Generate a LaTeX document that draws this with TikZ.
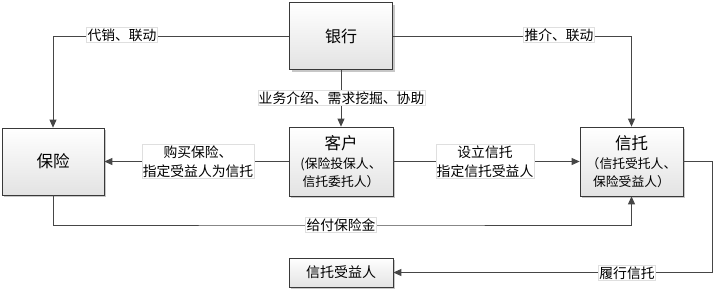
\documentclass[tikz,border=0pt]{standalone}
\usepackage{fontspec}
\newfontfamily\cjk{Noto Sans CJK SC}
\usetikzlibrary{arrows.meta,shadows,positioning}
\tikzset{
  box/.style={draw=gray!45!black, line width=0.7pt, top color=white, bottom color=gray!22,
    drop shadow={shadow xshift=2pt, shadow yshift=-2pt, fill=gray!55, opacity=0.8},
    align=center, font=\cjk, inner sep=0pt},
  lbl/.style={fill=white, draw=gray!25, line width=0.4pt, font=\cjk\fontsize{13.8}{19}\selectfont,
    align=center, inner sep=1pt},
  conn/.style={draw=gray!55!black, line width=0.8pt},
  arr/.style={conn, -{Triangle[length=8pt,width=7pt]}},
}
\begin{document}
\begin{tikzpicture}[x=1pt,y=-1pt]
\useasboundingbox (0,0) rectangle (727,293);
\node[box, minimum width=103pt, minimum height=67pt, font=\cjk\fontsize{16}{20}\selectfont] (bank) at (341,36) {银行};
\node[box, minimum width=102pt, minimum height=67pt, font=\cjk\fontsize{16.5}{20}\selectfont] (ins) at (53,161.5) {保险};
\node[box, minimum width=104pt, minimum height=69pt, font=\cjk\fontsize{12.8}{18}\selectfont] (cust) at (341,161.5)
  {{\fontsize{16.5}{19}\selectfont 客户}\\[1pt](保险投保人、\\信托委托人）};
\node[box, minimum width=103pt, minimum height=69pt, font=\cjk\fontsize{12.8}{18}\selectfont] (trust) at (631.5,161.5)
  {{\fontsize{16.5}{19}\selectfont 信托}\\[1pt]（信托受托人、\\保险受益人）};
\node[box, minimum width=104pt, minimum height=29pt, font=\cjk\fontsize{14}{16}\selectfont] (ben) at (341,272.5) {信托受益人};

\coordinate (gp) at (341,225);
\coordinate (tr) at (712,161.5);
\coordinate (br) at (712,272.5);

\draw[arr] (bank.west) -| (ins.north);
\draw[arr] (bank.east) -| (trust.north);
\draw[arr] (bank.south) -- (cust.north);
\draw[arr] (cust.west) -- (ins.east);
\draw[arr] (cust.east) -- (trust.west);
\draw[arr] (ins.south) |- (gp) -| (trust.south);
\draw[arr] (trust.east) -- (tr) -- (br) -- (ben.east);

\node[lbl] (l1) at (122,35) {代销、联动};
\node[lbl] (l2) at (559,35) {推介、联动};
\node[lbl] (l3) at (341.5,98) {业务介绍、需求挖掘、协助};
\node[lbl] (l4) at (198,161.5) {购买保险、\\指定受益人为信托};
\node[lbl] (l5) at (485,161.5) {设立信托\\指定信托受益人};
\node[lbl] (l6) at (gp) {给付保险金};
\node[lbl] (l7) at (627,273) {履行信托};
\end{tikzpicture}
\end{document}
